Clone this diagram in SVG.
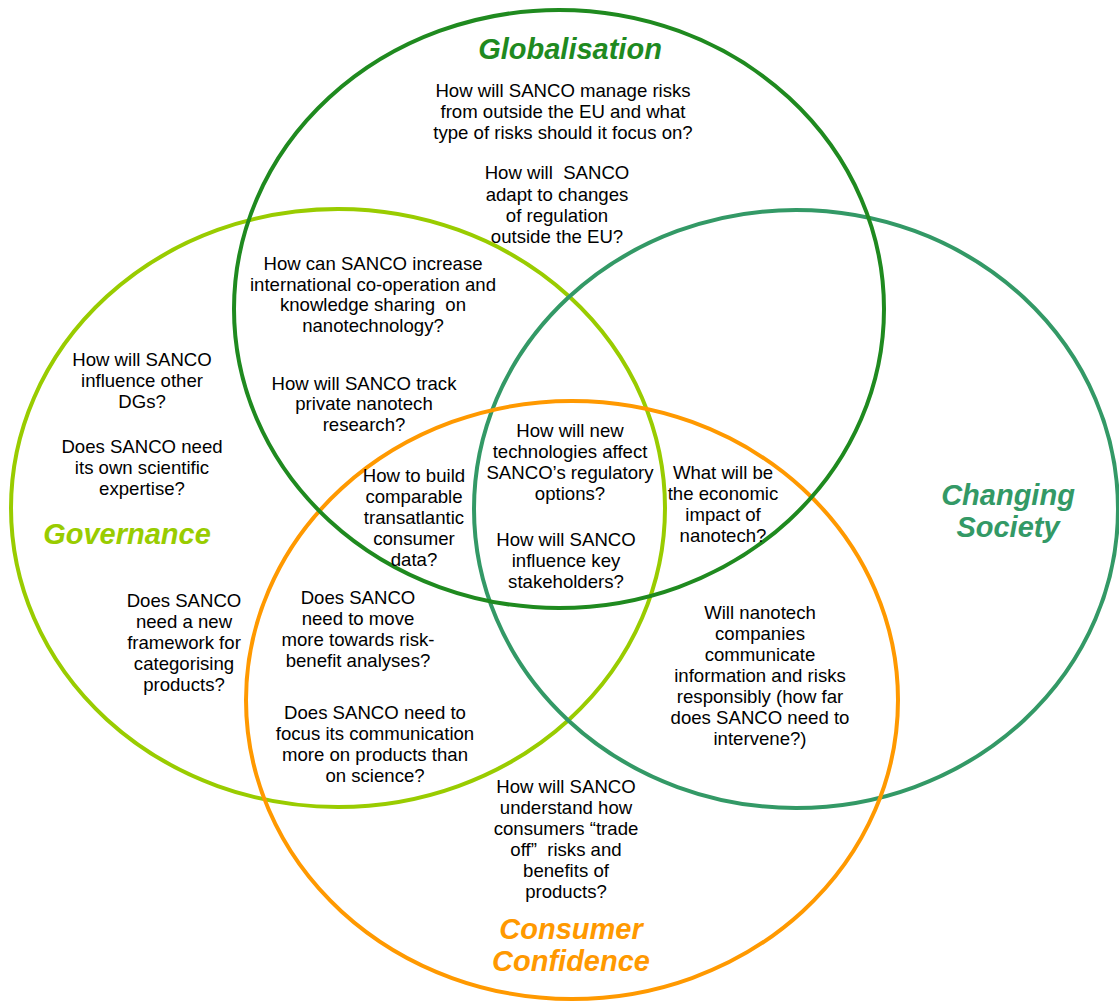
<svg xmlns="http://www.w3.org/2000/svg" width="1119" height="1001" viewBox="0 0 1119 1001">
<style>
.c{fill:none;stroke-width:4}
.t{font-family:"Liberation Sans",Arial,sans-serif;font-size:18.6px;fill:#000;text-anchor:middle;white-space:pre}
.h{font-family:"Liberation Sans",Arial,sans-serif;font-size:29px;font-weight:bold;font-style:italic;text-anchor:middle}
</style>
<rect width="1119" height="1001" fill="#fff"/>
<g id="connectors"></g>
<g id="governance-circle"><ellipse class="c" stroke="#99cc00" cx="338" cy="508" rx="327" ry="299"/></g>
<g id="society-circle"><ellipse class="c" stroke="#339966" cx="796" cy="509" rx="322" ry="299"/></g>
<g id="consumer-circle"><ellipse class="c" stroke="#ff9900" cx="572" cy="700" rx="326" ry="299"/></g>
<g id="globalisation-circle"><ellipse class="c" stroke="#1f8a1f" cx="559" cy="309" rx="325" ry="299"/></g>

<g id="globalisation">
<text class="h" fill="#1f8a1f" x="570" y="59">Globalisation</text>
<text class="t" x="563"><tspan x="563" y="97">How will SANCO manage risks</tspan><tspan x="563" y="118">from outside the EU and what</tspan><tspan x="563" y="139">type of risks should it focus on?</tspan></text>
<text class="t" x="557"><tspan x="557" y="179">How will  SANCO</tspan><tspan x="557" y="201">adapt to changes</tspan><tspan x="557" y="222">of regulation</tspan><tspan x="557" y="243">outside the EU?</tspan></text>
</g>
<g id="glob-gov">
<text class="t" x="373"><tspan x="373" y="270">How can SANCO increase</tspan><tspan x="373" y="291">international co-operation and</tspan><tspan x="373" y="311">knowledge sharing  on</tspan><tspan x="373" y="332">nanotechnology?</tspan></text>
<text class="t" x="364"><tspan x="364" y="390">How will SANCO track</tspan><tspan x="364" y="410">private nanotech</tspan><tspan x="364" y="431">research?</tspan></text>
</g>
<g id="governance">
<text class="t" x="142"><tspan x="142" y="366">How will SANCO</tspan><tspan x="142" y="387">influence other</tspan><tspan x="142" y="408">DGs?</tspan></text>
<text class="t" x="142"><tspan x="142" y="453">Does SANCO need</tspan><tspan x="142" y="474">its own scientific</tspan><tspan x="142" y="495">expertise?</tspan></text>
<text class="h" fill="#99cc00" x="127" y="544">Governance</text>
<text class="t" x="184"><tspan x="184" y="607">Does SANCO</tspan><tspan x="184" y="628">need a new</tspan><tspan x="184" y="649">framework for</tspan><tspan x="184" y="670">categorising</tspan><tspan x="184" y="691">products?</tspan></text>
</g>
<g id="glob-gov-cons">
<text class="t" x="414"><tspan x="414" y="482">How to build</tspan><tspan x="414" y="503">comparable</tspan><tspan x="414" y="524">transatlantic</tspan><tspan x="414" y="545">consumer</tspan><tspan x="414" y="566">data?</tspan></text>
</g>
<g id="center">
<text class="t" x="570"><tspan x="570" y="437">How will new</tspan><tspan x="570" y="458">technologies affect</tspan><tspan x="570" y="479">SANCO’s regulatory</tspan><tspan x="570" y="500">options?</tspan></text>
<text class="t" x="566"><tspan x="566" y="546">How will SANCO</tspan><tspan x="566" y="567">influence key</tspan><tspan x="566" y="588">stakeholders?</tspan></text>
</g>
<g id="glob-soc-cons">
<text class="t" x="723"><tspan x="723" y="479">What will be</tspan><tspan x="723" y="500">the economic</tspan><tspan x="723" y="521">impact of</tspan><tspan x="723" y="542">nanotech?</tspan></text>
</g>
<g id="changing-society">
<text class="h" fill="#339966" x="1008"><tspan x="1008" y="505">Changing</tspan><tspan x="1008" y="537">Society</tspan></text>
</g>
<g id="gov-cons">
<text class="t" x="358"><tspan x="358" y="604">Does SANCO</tspan><tspan x="358" y="625">need to move</tspan><tspan x="358" y="646">more towards risk-</tspan><tspan x="358" y="667">benefit analyses?</tspan></text>
<text class="t" x="375"><tspan x="375" y="719">Does SANCO need to</tspan><tspan x="375" y="740">focus its communication</tspan><tspan x="375" y="761">more on products than</tspan><tspan x="375" y="782">on science?</tspan></text>
</g>
<g id="soc-cons">
<text class="t" x="760"><tspan x="760" y="619">Will nanotech</tspan><tspan x="760" y="640">companies</tspan><tspan x="760" y="661">communicate</tspan><tspan x="760" y="682">information and risks</tspan><tspan x="760" y="703">responsibly (how far</tspan><tspan x="760" y="724">does SANCO need to</tspan><tspan x="760" y="745">intervene?)</tspan></text>
</g>
<g id="consumer-confidence">
<text class="t" x="566"><tspan x="566" y="793">How will SANCO</tspan><tspan x="566" y="814">understand how</tspan><tspan x="566" y="835">consumers “trade</tspan><tspan x="566" y="856">off”  risks and</tspan><tspan x="566" y="877">benefits of</tspan><tspan x="566" y="898">products?</tspan></text>
<text class="h" fill="#ff9900" x="571"><tspan x="571" y="939">Consumer</tspan><tspan x="571" y="971">Confidence</tspan></text>
</g>
</svg>
